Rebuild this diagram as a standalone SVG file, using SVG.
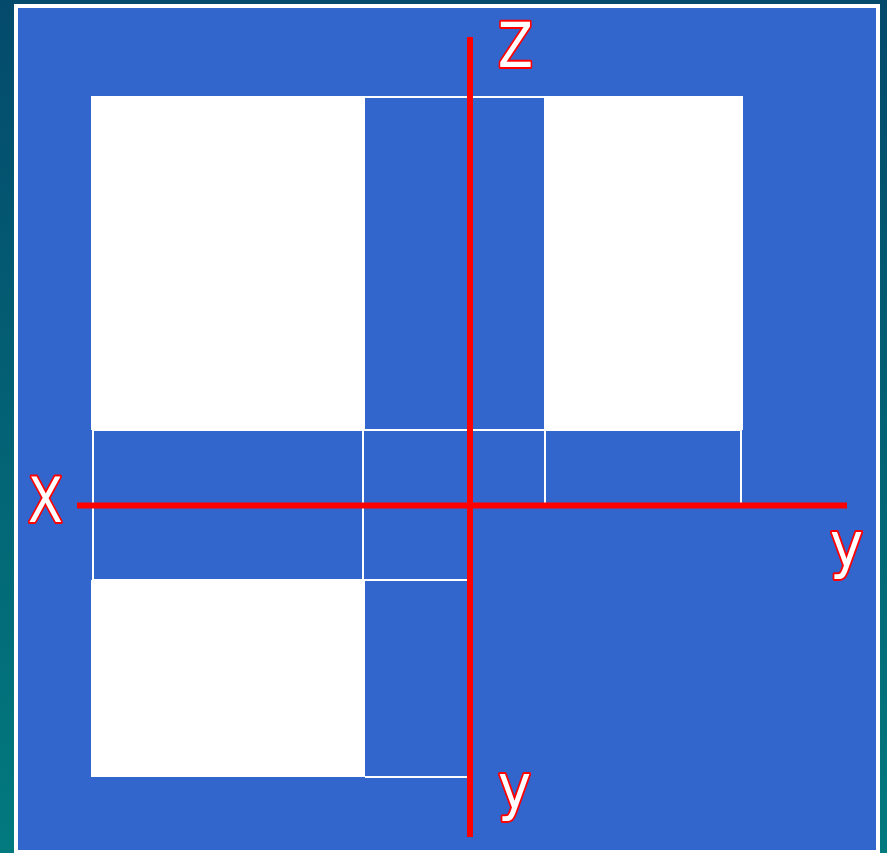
<svg xmlns="http://www.w3.org/2000/svg" width="887" height="853" viewBox="0 0 887 853">
<defs>
<linearGradient id="bg" x1="0" y1="0" x2="0" y2="1">
<stop offset="0" stop-color="#044a6c"/>
<stop offset="1" stop-color="#027a7e"/>
</linearGradient>
<style>
.face{fill:#ffffff}
.edge{stroke:#ffffff;stroke-width:2;fill:none}
.axis{stroke:#ff0000;stroke-width:6;fill:none}
.lbl{font-family:"DejaVu Sans","Liberation Sans",sans-serif;font-size:62px;fill:#ffffff;stroke:#ff0000;stroke-width:4;paint-order:stroke;stroke-linejoin:round}
</style>
</defs>
<rect x="0" y="0" width="887" height="853" fill="url(#bg)"/>
<rect id="panel" x="16" y="6" width="862" height="846" fill="#3366cc" stroke="#ffffff" stroke-width="4"/>
<g id="faces">
<rect id="face-top-left" class="face" x="91" y="96" width="274" height="334"/>
<rect id="face-top-right" class="face" x="544" y="96" width="199" height="334"/>
<rect id="face-bottom-left" class="face" x="91" y="580" width="274" height="197"/>
</g>
<g id="edges">
<line class="edge" x1="365" y1="97" x2="544" y2="97"/>
<line class="edge" x1="92" y1="430" x2="742" y2="430"/>
<line class="edge" x1="93" y1="430" x2="93" y2="580"/>
<line class="edge" x1="363" y1="430" x2="363" y2="580"/>
<line class="edge" x1="92" y1="580" x2="470" y2="580"/>
<line class="edge" x1="545" y1="430" x2="545" y2="505"/>
<line class="edge" x1="741" y1="430" x2="741" y2="505"/>
<line class="edge" x1="365" y1="777" x2="470" y2="777"/>
<rect x="514" y="504" width="2" height="3" fill="#ffffff"/>
</g>
<g id="axes">
<line id="axis-z" class="axis" x1="470" y1="37" x2="470" y2="837"/>
<line id="axis-x" class="axis" x1="77" y1="505.5" x2="847" y2="505.5"/>
</g>
<g id="labels">
<text class="lbl" transform="translate(498,67) scale(0.82,1)">Z</text>
<text class="lbl" transform="translate(28,522) scale(0.82,1)">X</text>
<text class="lbl" transform="translate(830,566) scale(0.9,1)">y</text>
<text class="lbl" transform="translate(498,808) scale(0.9,1)">y</text>
</g>
</svg>
